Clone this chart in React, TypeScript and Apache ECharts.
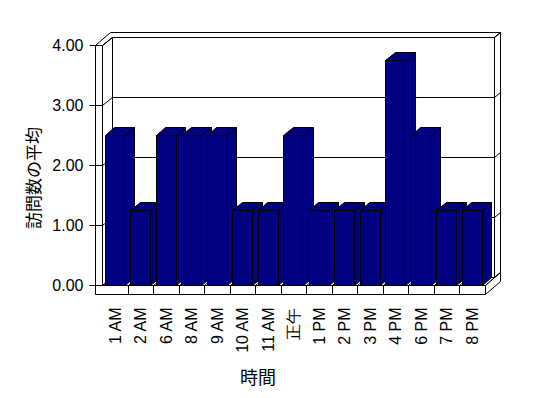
import React, { useEffect, useRef } from "react";
import * as echarts from "echarts";

const categories = ["1 AM", "2 AM", "6 AM", "8 AM", "9 AM", "10 AM", "11 AM", "正午", "1 PM", "2 PM", "3 PM", "4 PM", "6 PM", "7 PM", "8 PM"];
const values = [2.5, 1.25, 2.5, 2.5, 2.5, 1.25, 1.25, 2.5, 1.25, 1.25, 1.25, 3.75, 2.5, 1.25, 1.25];
const yTicks = [0, 1, 2, 3, 4];
const xTitle = "時間";
const yTitle = "訪問数の平均";

// 3D styling constants
const DX = 9.5; // depth offset of plot (x)
const DY = 8; // depth offset of plot (y)
const TX = 6; // back wall thickness (x)
const TY = 5; // back wall thickness (y)
const WALL = 7.5; // left wall thickness
const FLOOR = 9; // floor thickness
const BAR_RATIO = 0.385;

const snap = (v: number) => Math.round(v - 0.5) + 0.5;
const P = (x: number, y: number) => [snap(x), snap(y)];
const lineStyle = { stroke: "#000", lineWidth: 1, fill: "#fff" };

export default function App() {
  const ref = useRef<HTMLDivElement>(null);
  useEffect(() => {
    if (!ref.current) return;
    const chart = echarts.init(ref.current, null, { renderer: "svg" });
    const font = '"Liberation Sans", Arial, sans-serif';

    const frameRender = (params: any, api: any) => {
      const cs = params.coordSys;
      const xL = cs.x;
      const xR = cs.x + cs.width;
      const yT = cs.y;
      const yB = cs.y + cs.height;
      const band = api.size([1, 0])[0];
      const xo = xL - WALL;
      const children: any[] = [];
      const poly = (pts: number[][], style: any = lineStyle) =>
        children.push({ type: "polygon", shape: { points: pts }, style });
      const line = (x1: number, y1: number, x2: number, y2: number) => {
        const a = P(x1, y1);
        const b = P(x2, y2);
        children.push({
          type: "line",
          shape: { x1: a[0], y1: a[1], x2: b[0], y2: b[1] },
          style: { stroke: "#000", lineWidth: 1 },
        });
      };
      // merged top face (left wall top + back wall top)
      poly([P(xo, yT), P(xL, yT), P(xL + DX, yT - DY), P(xR + DX, yT - DY), P(xR + DX + TX, yT - DY - TY), P(xo + DX + TX, yT - DY - TY)]);
      // back wall inner face
      poly([P(xL + DX, yT - DY), P(xR + DX, yT - DY), P(xR + DX, yB - DY), P(xL + DX, yB - DY)]);
      // back wall right face
      poly([P(xR + DX, yT - DY), P(xR + DX + TX, yT - DY - TY), P(xR + DX + TX, yB - DY - TY), P(xR + DX, yB - DY)]);
      // left wall inner face
      poly([P(xL, yT), P(xL + DX, yT - DY), P(xL + DX, yB - DY), P(xL, yB)]);
      // floor top
      poly([P(xL, yB), P(xR, yB), P(xR + DX, yB - DY), P(xL + DX, yB - DY)]);
      // floor right face
      poly([P(xR, yB), P(xR + DX + TX, yB - DY - TY), P(xR + DX + TX, yB + FLOOR - DY - TY), P(xR, yB + FLOOR)]);
      // front L face (left wall front + floor front)
      poly([P(xo, yT), P(xL, yT), P(xL, yB), P(xR, yB), P(xR, yB + FLOOR), P(xo, yB + FLOOR)]);
      // gridlines
      yTicks.forEach((t) => {
        const y = api.coord([0, t])[1];
        line(xo - 5.5, y, xL, y);
        line(xL, y, xL + DX, y - DY);
        line(xL + DX, y - DY, xR + DX, y - DY);
        line(xR + DX, y - DY, xR + DX + TX, y - DY - TY);
      });
      // category separators on the floor
      for (let k = 1; k < categories.length; k++) {
        const x = xL + band * k;
        line(x, yB, x, yB + FLOOR);
        line(x, yB, x + DX, yB - DY);
      }
      return { type: "group", children };
    };

    const barRender = (params: any, api: any) => {
      const idx = api.value(0);
      const [xc, yv] = api.coord([idx, api.value(1)]);
      const yb = api.coord([idx, 0])[1];
      const band = api.size([1, 0])[0];
      const hw = band * BAR_RATIO;
      const x1 = xc - hw;
      const x2 = xc + hw;
      const st = { fill: "#000080", stroke: "#000", lineWidth: 1 };
      return {
        type: "group",
        children: [
          { type: "polygon", shape: { points: [P(x2, yv), P(x2 + DX, yv - DY), P(x2 + DX, yb - DY), P(x2, yb)] }, style: st },
          { type: "polygon", shape: { points: [P(x1, yv), P(x2, yv), P(x2 + DX, yv - DY), P(x1 + DX, yv - DY)] }, style: st },
          { type: "polygon", shape: { points: [P(x1, yv), P(x2, yv), P(x2, yb), P(x1, yb)] }, style: st },
        ],
      };
    };

    chart.setOption({
      animation: false,
      backgroundColor: "#fff",
      grid: { left: 102.5, right: 63, top: 45.5, bottom: 112.5 },
      xAxis: {
        type: "category",
        data: categories,
        axisLine: { show: false },
        axisTick: { show: false },
        splitLine: { show: false },
        axisLabel: { rotate: 90, margin: 22, interval: 0, fontSize: 16, fontFamily: font, color: "#000" },
      },
      yAxis: {
        type: "value",
        min: 0,
        max: 4,
        interval: 1,
        axisLine: { show: false },
        axisTick: { show: false },
        splitLine: { show: false },
        axisLabel: { formatter: (v: number) => v.toFixed(2), margin: 19, fontSize: 16, fontFamily: font, color: "#000" },
      },
      graphic: [
        {
          type: "text",
          x: 258,
          y: 376,
          style: { text: xTitle, font: '18px "Noto Sans CJK JP"', fill: "#000", align: "center", verticalAlign: "middle" },
        },
        {
          type: "text",
          x: 32,
          y: 178,
          rotation: Math.PI / 2,
          style: { text: yTitle, font: '17px "Noto Sans CJK JP"', fill: "#000", align: "center", verticalAlign: "middle" },
        },
      ],
      series: [
        { type: "custom", z: 1, silent: true, clip: false, data: [[0, 0]], renderItem: frameRender },
        { type: "custom", z: 2, silent: true, clip: false, data: values.map((v, i) => [i, v]), renderItem: barRender },
      ],
    });
    return () => chart.dispose();
  }, []);
  return <div ref={ref} style={{ position: "fixed", left: 0, top: 0, width: 548, height: 398 }} />;
}
